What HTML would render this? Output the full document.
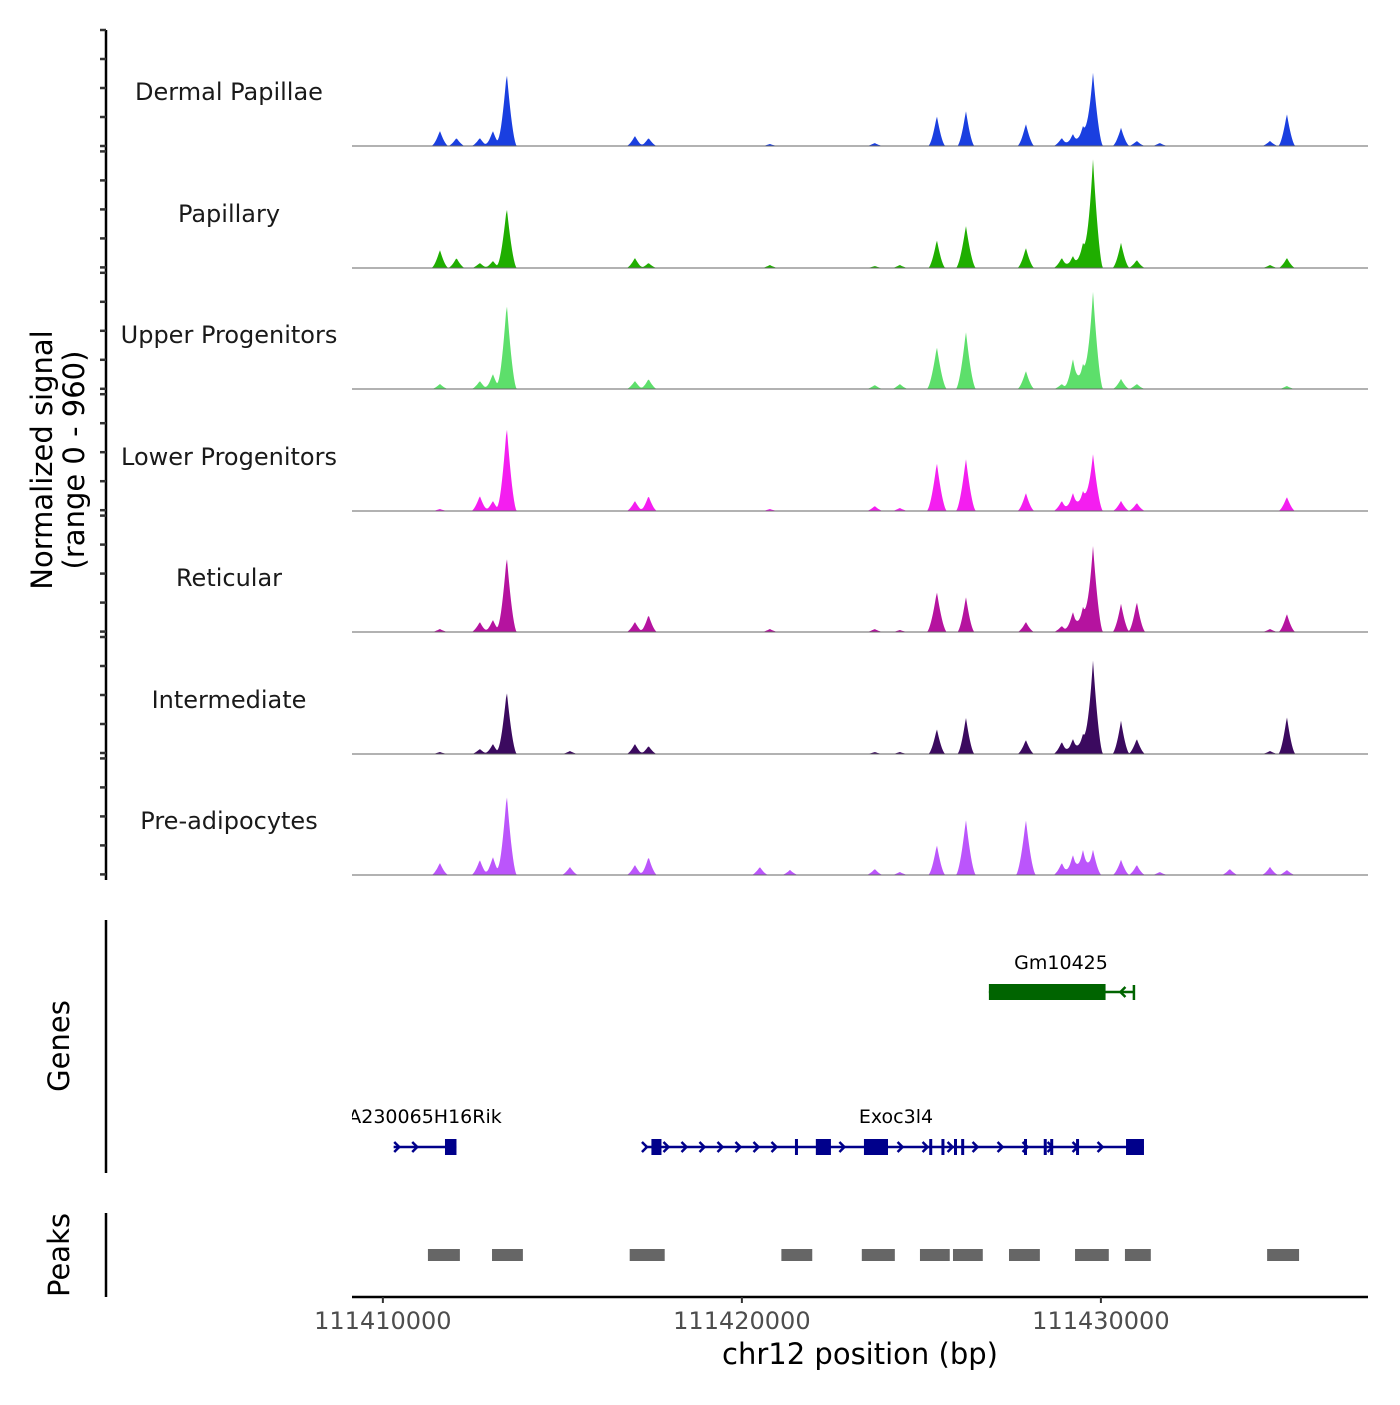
<!DOCTYPE html>
<html><head><meta charset="utf-8"><style>
body{margin:0;background:#fff}
svg text{font-family:"DejaVu Sans","Liberation Sans",sans-serif}
</style></head><body>
<svg id="chart" width="1400" height="1400" viewBox="0 0 1400 1400" xmlns="http://www.w3.org/2000/svg">
<g id="tracks"></g>
<g id="genes"></g>
<g id="peaks"></g>
<g id="axes"></g>
</svg>
<script>
// ---- data ----
const peakPositions = [111411588,111412050,111412700,111413064,111413450,111415210,111417020,111417400,111420500,111420780,111421340,111423700,111424400,111425430,111426240,111427910,111428910,111429220,111429500,111429780,111430560,111431000,111431640,111433590,111434710,111435180];
const trackNames = ["Dermal Papillae","Papillary","Upper Progenitors","Lower Progenitors","Reticular","Intermediate","Pre-adipocytes"];
const dermalPapillae   = [120,64,64,120,580,0,80,64,0,16,0,24,0,240,280,176,64,96,160,580,144,40,24,0,40,256];
const papillary        = [144,80,40,56,480,0,80,40,0,24,0,16,24,224,336,160,80,96,200,860,200,64,0,0,24,80];
const upperProgenitors = [40,0,64,120,680,0,64,80,0,0,0,32,40,336,456,144,40,240,200,770,80,40,0,0,0,24];
const lowerProgenitors = [16,0,120,80,670,0,80,120,0,16,0,40,24,384,416,144,80,144,160,450,80,64,0,0,0,112];
const reticular        = [24,0,80,96,600,0,80,136,0,24,0,24,16,320,280,80,48,160,200,680,224,240,0,0,24,144];
const intermediate     = [16,0,40,80,500,24,80,64,0,0,0,16,16,200,290,112,96,120,160,740,264,120,0,0,24,296];
const preAdipocytes    = [96,0,120,144,640,64,80,144,64,0,40,48,24,240,440,440,96,160,200,200,120,80,24,48,64,40];
const trackValues = [dermalPapillae,papillary,upperProgenitors,lowerProgenitors,reticular,intermediate,preAdipocytes];
const trackColors = ["#1a3fe0","#1fae00","#5ddf6b","#f41ef0","#b5139f","#3b0a5f","#bb55fb"];
const xTicks = [111410000,111420000,111430000];
const peakStarts = [111411255,111413040,111416875,111421100,111423340,111424960,111425880,111427440,111429280,111430670,111434630];
const peakEnds   = [111412145,111413900,111417850,111421960,111424260,111425790,111426710,111428300,111430220,111431390,111435520];
const exoc3l4Exons = [[111417480,111417760],[111422060,111422480],[111423400,111424070],[111430700,111431200]];
const exoc3l4Ticks = [111421520,111425260,111425600,111425950,111426150,111427900,111428450,111428630,111429350];
const rikExons = [[111411730,111412050]];
const gmExon = [[111426880,111430130]];

// ---- scales ----
const X0=352,X1=1368, D0=111409140, D1=111437440;
const xs = v => X0+(v-D0)/(D1-D0)*(X1-X0);
const baselines=[146,268,389,511,632,754,875];
const TH=121.4, MAXV=960;
const ys = (v,k) => baselines[k]-v/MAXV*TH;
const NS="http://www.w3.org/2000/svg";
function mk(tag,attrs,parent){const e=document.createElementNS(NS,tag);for(const k in attrs)e.setAttribute(k,attrs[k]);parent.appendChild(e);return e;}

// ---- coverage tracks ----
const gT=document.getElementById('tracks');
trackValues.forEach((vals,k)=>{
  const g=mk('g',{},gT);
  
  
  let d='M'+X0+','+baselines[k];
  for(let px=X0;px<=X1;px+=1){
    const bp=D0+(px-X0)/(X1-X0)*(D1-D0);
    let v=0;
    peakPositions.forEach((p,i)=>{
      const w=(vals[i]>300?280:240);
      const t=1-Math.abs(bp-p)/w;
      if(t>0){const s=vals[i]*Math.pow(t,1.6);v+=s;}
    });
    d+=' L'+px+','+ys(v,k).toFixed(1);
  }
  d+=' L'+X1+','+baselines[k]+' Z';
  const a=mk('path',{d:d,fill:trackColors[k],stroke:'none'},g);
  
  
  const bl=mk('line',{x1:X0,x2:X1,y1:baselines[k],y2:baselines[k],stroke:'#666','stroke-width':1},g);
  
  
  const t=mk('text',{x:229,y:baselines[k]-46,'text-anchor':'middle','font-size':24,fill:'#1a1a1a'},g);
  t.textContent=trackNames[k];
  
  
});

// ---- genes ----
const gG=document.getElementById('genes');
const defs=mk('defs',{},gG);
const cp=mk('clipPath',{id:'clipG'},defs);
mk('rect',{x:X0,y:900,width:X1-X0,height:300},cp);
const gg=mk('g',{'clip-path':'url(#clipG)'},gG);
function arrows(x1,x2,y,color,dir,step){
  for(let x=x1;x<=x2;x+=step){
    const p=mk('path',{d: dir>0?`M${x-3},${y-5} L${x+2},${y} L${x-3},${y+5}`:`M${x+3},${y-5} L${x-2},${y} L${x+3},${y+5}`,fill:'none',stroke:color,'stroke-width':2.5},gg);
    
    
  }
}
let c='#006400', y=992;
mk('line',{x1:xs(gmExon[0][0]),x2:xs(111430920),y1:y,y2:y,stroke:c,'stroke-width':2.5},gg);
let r=mk('rect',{x:xs(gmExon[0][0]),y:y-8,width:xs(gmExon[0][1])-xs(gmExon[0][0]),height:16,fill:c},gg);

mk('line',{x1:xs(111430920),x2:xs(111430920),y1:y-7,y2:y+8,stroke:c,'stroke-width':2.5},gg);
arrows(xs(111430600),xs(111430600),y,c,-1,10);
let tx=mk('text',{x:1061,y:969,'text-anchor':'middle','font-size':19,fill:'#000'},gg);tx.textContent='Gm10425';

c='#00008b'; y=1147;
mk('line',{x1:xs(111417300),x2:xs(111431200),y1:y,y2:y,stroke:c,'stroke-width':2.5},gg);
arrows(xs(111417300),xs(111417300),y,c,1,10);
arrows(xs(111417900),xs(111421300),y,c,1,18);
arrows(xs(111422800),xs(111423100),y,c,1,18);
arrows(xs(111424420),xs(111430300),y,c,1,25);
exoc3l4Exons.forEach(e=>{const q=mk('rect',{x:xs(e[0]),y:y-8,width:xs(e[1])-xs(e[0]),height:16,fill:c},gg);
 });
exoc3l4Ticks.forEach(p=>{const q=mk('rect',{x:xs(p)-1.5,y:y-8,width:3,height:16,fill:c},gg);
 });
tx=mk('text',{x:896,y:1123,'text-anchor':'middle','font-size':19,fill:'#000'},gg);tx.textContent='Exoc3l4';

mk('line',{x1:xs(111410300),x2:xs(rikExons[0][1]),y1:y,y2:y,stroke:c,'stroke-width':2.5},gg);
arrows(xs(111410400),xs(111411400),y,c,1,18);
rikExons.forEach(e=>{const q=mk('rect',{x:xs(e[0]),y:y-8,width:xs(e[1])-xs(e[0]),height:16,fill:c},gg);
 });
tx=mk('text',{x:425,y:1123,'text-anchor':'middle','font-size':19,fill:'#000'},gg);tx.textContent='A230065H16Rik';


// ---- peaks ----
const gP=document.getElementById('peaks');
peakStarts.forEach((s,i)=>{
  const q=mk('rect',{x:xs(s),y:1249,width:xs(peakEnds[i])-xs(s),height:12,fill:'#666'},gP);
  
  
});

// ---- axes ----
const gA=document.getElementById('axes');
[[30,880],[920,1173],[1213,1297]].forEach(s=>mk('line',{x1:106,x2:106,y1:s[0],y2:s[1],stroke:'#000','stroke-width':2.5},gA));
for(let k=0;k<7;k++){const top=30+121.4*k;for(let j=0;j<5;j++){const yy=top+j*29;mk('line',{x1:100,x2:106,y1:yy,y2:yy,stroke:'#333','stroke-width':2.5},gA);}}
const xa=mk('line',{x1:X0,x2:X1,y1:1297,y2:1297,stroke:'#000','stroke-width':2.5},gA);

xTicks.forEach(v=>{
  mk('line',{x1:xs(v),x2:xs(v),y1:1297,y2:1303,stroke:'#333','stroke-width':2},gA);
  const t=mk('text',{x:xs(v),y:1329,'text-anchor':'middle','font-size':24,fill:'#4d4d4d'},gA);
  t.textContent=v;
  
  
});
</script>
<svg style="position:absolute;left:0;top:0" width="1400" height="1400">
<text x="860" y="1364" text-anchor="middle" font-size="29" fill="#000" style="font-family:'DejaVu Sans',sans-serif">chr12 position (bp)</text>
<g transform="translate(52,460) rotate(-90)">
<text x="0" y="0" text-anchor="middle" font-size="29" style="font-family:'DejaVu Sans',sans-serif">Normalized signal</text>
<text x="0" y="32" text-anchor="middle" font-size="29" style="font-family:'DejaVu Sans',sans-serif">(range 0 - 960)</text>
</g>
<text transform="translate(69,1046) rotate(-90)" text-anchor="middle" font-size="29" style="font-family:'DejaVu Sans',sans-serif">Genes</text>
<text transform="translate(69,1255) rotate(-90)" text-anchor="middle" font-size="29" style="font-family:'DejaVu Sans',sans-serif">Peaks</text>
</svg>
</body></html>
